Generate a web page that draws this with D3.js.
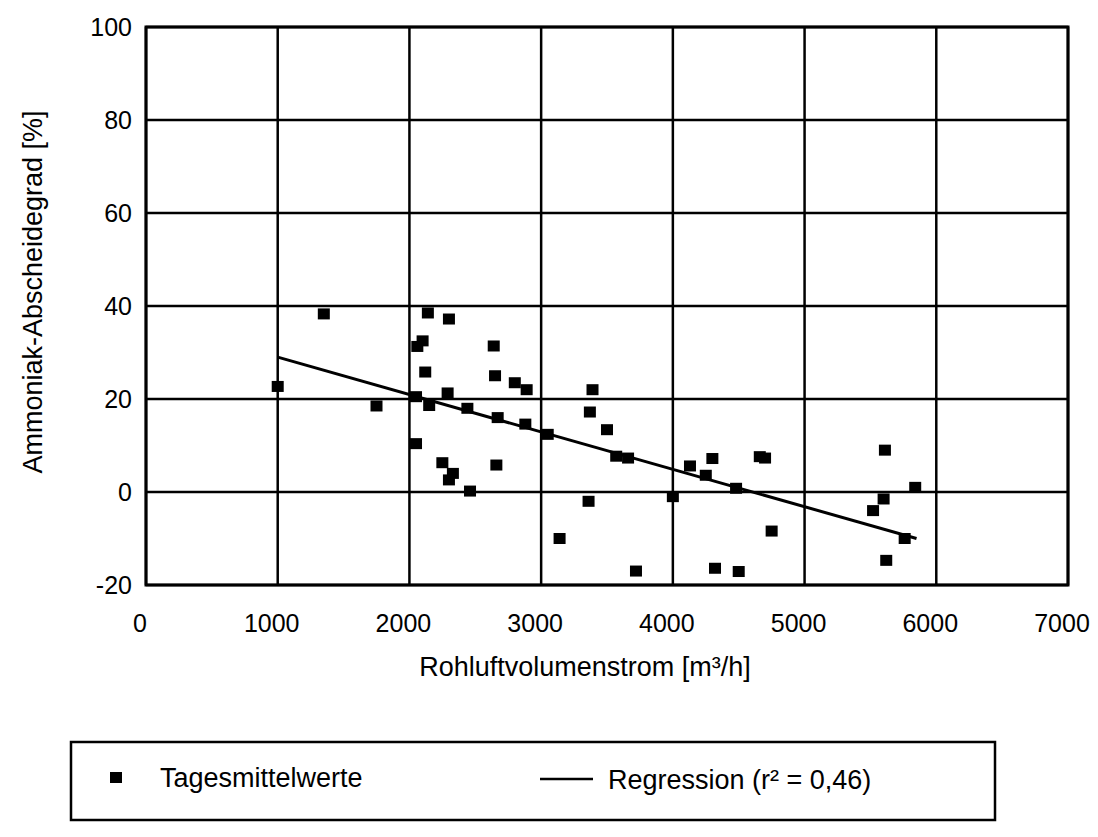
<!DOCTYPE html>
<html>
<head>
<meta charset="utf-8">
<script src="https://cdn.jsdelivr.net/npm/d3@7"></script>
<style>
  body { margin: 0; background: #fff; }
  svg { display: block; font-family: "Liberation Sans", Arial, sans-serif; }
</style>
</head>
<body>
<svg width="1098" height="837"></svg>
<script>
// daily means: airflow [m3/h] and ammonia removal [%]
const flowValues = [1000, 1350, 1750, 2140, 2300, 2100, 2060, 2640, 2120, 2650, 2800, 2890, 2290,
  3390, 2050, 2150, 2440, 3370, 2670, 2880, 3500, 3050, 2050, 3570, 3660, 2250, 2660, 2330,
  2300, 2460, 3360, 3140, 3720, 4000, 4130, 4300, 4250, 4660, 4700, 4480, 4750, 4320, 4500,
  5610, 5840, 5600, 5520, 5760, 5620];
const removalValues = [22.7, 38.3, 18.5, 38.5, 37.2, 32.5, 31.3, 31.4, 25.8, 25, 23.5, 22, 21.3,
  22, 20.5, 18.6, 18, 17.2, 16, 14.6, 13.4, 12.4, 10.4, 7.7, 7.3, 6.3, 5.8, 4,
  2.6, 0.2, -2, -10, -17, -1, 5.6, 7.2, 3.6, 7.6, 7.3, 0.8, -8.4, -16.4, -17.1,
  9, 1, -1.5, -4, -10, -14.7];

// regression line endpoints
const regFlow = [1000, 5850];
const regRemoval = [29, -10];

const xTicks = [0, 1000, 2000, 3000, 4000, 5000, 6000, 7000];
const yTicks = [-20, 0, 20, 40, 60, 80, 100];

const legendLabels = ["Tagesmittelwerte", "Regression (r\u00b2 = 0,46)"];
const xTitle = "Rohluftvolumenstrom [m\u00b3/h]";
const yTitle = "Ammoniak-Abscheidegrad [%]";

const svg = d3.select("svg");
const plotLeft = 146, plotRight = 1068, plotTop = 27, plotBottom = 585;

const x = d3.scaleLinear().domain([0, 7000]).range([plotLeft, plotRight]);
const y = d3.scaleLinear().domain([-20, 100]).range([plotBottom, plotTop]);

// grid
svg.append("g")
  .selectAll("line")
  .data(xTicks)
  .join("line")
  .attr("x1", d => x(d)).attr("x2", d => x(d))
  .attr("y1", plotTop).attr("y2", plotBottom)
  .attr("stroke", "#000").attr("stroke-width", 2.5);

svg.append("g")
  .selectAll("line")
  .data(yTicks)
  .join("line")
  .attr("x1", plotLeft).attr("x2", plotRight)
  .attr("y1", d => y(d)).attr("y2", d => y(d))
  .attr("stroke", "#000").attr("stroke-width", 2.5);

svg.append("rect")
  .attr("x", plotLeft).attr("y", plotTop)
  .attr("width", plotRight - plotLeft).attr("height", plotBottom - plotTop)
  .attr("fill", "none").attr("stroke", "#000").attr("stroke-width", 3);

// tick labels
svg.append("g")
  .selectAll("text")
  .data(yTicks)
  .join("text")
  .attr("x", plotLeft - 14)
  .attr("y", d => y(d) + 9)
  .attr("text-anchor", "end")
  .attr("font-size", 25)
  .text(d => d);

svg.append("g")
  .selectAll("text")
  .data(xTicks)
  .join("text")
  .attr("x", d => x(d) - 6)
  .attr("y", 632)
  .attr("text-anchor", "middle")
  .attr("font-size", 25)
  .text(d => d);

// axis titles
svg.append("text")
  .attr("x", 585).attr("y", 676)
  .attr("text-anchor", "middle")
  .attr("font-size", 27)
  .text(xTitle);

svg.append("text")
  .attr("transform", "translate(42,292) rotate(-90)")
  .attr("text-anchor", "middle")
  .attr("font-size", 27)
  .text(yTitle);

// regression
svg.append("line")
  .attr("x1", x(regFlow[0])).attr("y1", y(regRemoval[0]))
  .attr("x2", x(regFlow[1])).attr("y2", y(regRemoval[1]))
  .attr("stroke", "#000").attr("stroke-width", 3);

// points
const pts = flowValues.map((f, i) => [f, removalValues[i]]);
svg.append("g")
  .selectAll("rect")
  .data(pts)
  .join("rect")
  .attr("x", d => x(d[0]) - 6)
  .attr("y", d => y(d[1]) - 5.5)
  .attr("width", 12).attr("height", 11)
  .attr("fill", "#000");

// legend
const lg = svg.append("g");
lg.append("rect")
  .attr("x", 71).attr("y", 742).attr("width", 924).attr("height", 78)
  .attr("fill", "none").attr("stroke", "#000").attr("stroke-width", 2.5);
lg.append("rect")
  .attr("x", 110).attr("y", 772).attr("width", 12).attr("height", 11)
  .attr("fill", "#000");
lg.append("text")
  .attr("x", 160).attr("y", 787).attr("font-size", 27)
  .text(legendLabels[0]);
lg.append("line")
  .attr("x1", 540).attr("x2", 593).attr("y1", 779).attr("y2", 779)
  .attr("stroke", "#000").attr("stroke-width", 2.5);
lg.append("text")
  .attr("x", 608).attr("y", 789).attr("font-size", 27)
  .text(legendLabels[1]);
</script>
</body>
</html>
